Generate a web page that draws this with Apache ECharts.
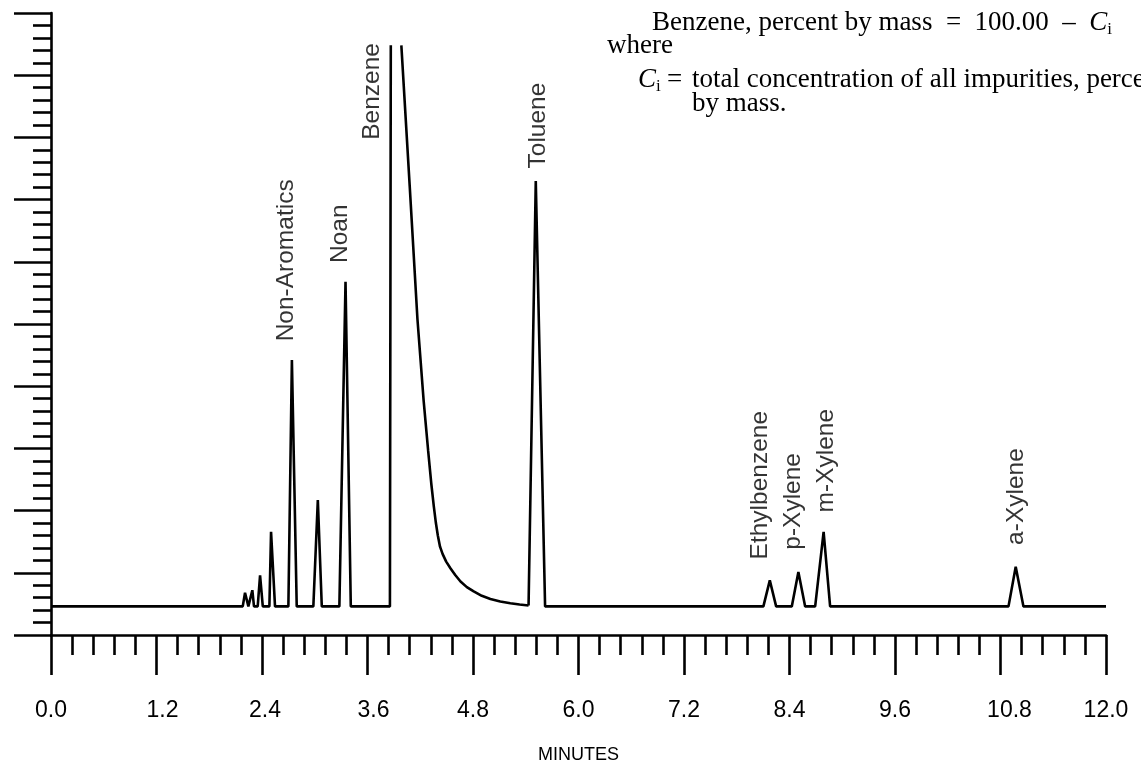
<!DOCTYPE html>
<html>
<head>
<meta charset="utf-8">
<script src="https://cdn.jsdelivr.net/npm/echarts@6/dist/echarts.min.js"></script>
<style>
html,body{margin:0;padding:0;background:#fff;}
#chart{width:1141px;height:769px;}
</style>
</head>
<body>
<div id="chart"></div>
<script>
// ---- data (time in minutes, detector response in axis units 0..50) ----
const xTickLabels = ['0.0','1.2','2.4','3.6','4.8','6.0','7.2','8.4','9.6','10.8','12.0'];

// trace from start up to the off-scale Benzene peak
const traceEarly = [
  [0.000, 2.3], [2.181, 2.3], [2.207, 3.4], [2.245, 2.3],
  [2.264, 2.3], [2.290, 3.6], [2.309, 2.3],
  [2.351, 2.3], [2.378, 4.8], [2.409, 2.3],
  [2.484, 2.3], [2.503, 8.3], [2.548, 2.3],
  [2.700, 2.3], [2.740, 22.1], [2.795, 2.3],
  [2.984, 2.3], [3.035, 10.85], [3.080, 2.3],
  [3.280, 2.3], [3.350, 28.4], [3.410, 2.3],
  [3.855, 2.3], [3.865, 47.4]
];
// tailing side of the Benzene peak
const benzeneTail = [
  [3.985, 47.4], [4.080, 36.1], [4.168, 25.4], [4.239, 18.8], [4.290, 14.8],
  [4.325, 12.2], [4.355, 10.3], [4.378, 9.0], [4.400, 8.0], [4.425, 7.1],
  [4.455, 6.5], [4.495, 5.9], [4.545, 5.35], [4.600, 4.8], [4.658, 4.3],
  [4.730, 3.85], [4.808, 3.5], [4.900, 3.15], [4.998, 2.9], [5.110, 2.7],
  [5.225, 2.55], [5.330, 2.45], [5.432, 2.37]
];
// Toluene and later peaks
const traceLate = [
  [5.432, 2.37], [5.514, 36.5], [5.620, 2.3],
  [8.103, 2.3], [8.176, 4.39], [8.248, 2.3],
  [8.426, 2.3], [8.501, 5.07], [8.578, 2.3],
  [8.692, 2.3], [8.788, 8.29], [8.862, 2.3],
  [10.891, 2.3], [10.973, 5.49], [11.061, 2.3],
  [12.000, 2.3]
];
// peak names and the (time, response) where each rotated label starts
const peakNames = ['Non-Aromatics','Noan','Benzene','Toluene','Ethylbenzene','p-Xylene','m-Xylene','a-Xylene'];
const peakLabelT = [2.674, 3.288, 3.652, 5.538, 8.073, 8.443, 8.822, 10.979];
const peakLabelV = [23.6, 29.9, 39.8, 37.5, 6.07, 6.85, 9.85, 7.24];

const labelData = peakNames.map((n, i) => [peakLabelT[i], peakLabelV[i], n]);

const chart = echarts.init(document.getElementById('chart'), null, {renderer:'canvas'});
const SANS = '"Liberation Sans", Arial, Helvetica, sans-serif';
const SERIF = '"Liberation Serif", "Times New Roman", serif';
const lineStyle = {color:'#000', width:2.6};
// small hand-set offsets of some tick labels in the original print
const labelShift = {'1.2':'r12', '2.4':'r6', '3.6':'r12', '10.8':'r18'};

chart.setOption({
  animation:false,
  backgroundColor:'#fff',
  grid:{left:51, right:35, top:13, bottom:131, containLabel:false},
  xAxis:{
    type:'value', min:0, max:12, interval:1.2,
    axisLine:{show:true, onZero:false, lineStyle:{color:'#000', width:2.6}},
    axisTick:{show:true, length:40, lineStyle:{color:'#000', width:2.6}},
    minorTick:{show:true, splitNumber:5, length:20, lineStyle:{color:'#000', width:2.6}},
    splitLine:{show:false}, minorSplitLine:{show:false},
    axisLabel:{
      color:'#000', fontSize:23, fontFamily:SANS, margin:64,
      formatter:function(v){
        const i = Math.round(v/1.2);
        const t = xTickLabels[i] !== undefined ? xTickLabels[i] : '';
        return labelShift[t] ? '{' + labelShift[t] + '|' + t + '}' : t;
      },
      rich:{
        r6:{padding:[0,0,0,6], fontSize:23, fontFamily:SANS, color:'#000'},
        r12:{padding:[0,0,0,12], fontSize:23, fontFamily:SANS, color:'#000'},
        r18:{padding:[0,0,0,18], fontSize:23, fontFamily:SANS, color:'#000'}
      }
    },
    name:'MINUTES', nameLocation:'middle', nameGap:111,
    nameTextStyle:{color:'#000', fontSize:18, fontFamily:SANS}
  },
  yAxis:{
    type:'value', min:0, max:50, interval:5,
    axisLine:{show:true, onZero:false, lineStyle:{color:'#000', width:2.6}},
    axisTick:{show:true, length:37, lineStyle:{color:'#000', width:2.6}},
    minorTick:{show:true, splitNumber:5, length:18, lineStyle:{color:'#000', width:2.6}},
    axisLabel:{show:false},
    splitLine:{show:false}, minorSplitLine:{show:false}
  },
  series:[
    {type:'line', data:traceEarly, symbol:'none', lineStyle:lineStyle, z:3},
    {type:'line', data:benzeneTail, symbol:'none', lineStyle:lineStyle, z:3},
    {type:'line', data:traceLate, symbol:'none', lineStyle:lineStyle, z:3},
    {type:'scatter', data:labelData, symbolSize:0.1, itemStyle:{color:'rgba(0,0,0,0)'},
     label:{show:true, position:[0,0], rotate:90, align:'left', verticalAlign:'middle',
            color:'#000', fontSize:24.5, fontFamily:SANS,
            formatter:function(p){ return p.data[2]; }},
     silent:true, z:4}
  ],
  graphic:[
    {type:'text', left:652, top:7, style:{
      text:'Benzene, percent by mass  =  100.00  –  {c|C}{s|i}',
      font:'27px ' + SERIF, fill:'#000', lineHeight:31,
      rich:{c:{fontStyle:'italic', fontSize:27, fontFamily:SERIF, lineHeight:31},
            s:{fontSize:17, fontFamily:SERIF, verticalAlign:'bottom', lineHeight:31}}
    }},
    {type:'text', left:607, top:30, style:{text:'where', font:'27px ' + SERIF, fill:'#000', lineHeight:31}},
    {type:'text', left:638, top:64, style:{
      text:'{c|C}{s|i}', fill:'#000', font:'27px ' + SERIF, lineHeight:31,
      rich:{c:{fontStyle:'italic', fontSize:27, fontFamily:SERIF, lineHeight:31},
            s:{fontSize:17, fontFamily:SERIF, verticalAlign:'bottom', lineHeight:31}}
    }},
    {type:'text', left:667, top:64, style:{text:'=', font:'27px ' + SERIF, fill:'#000', lineHeight:31}},
    {type:'text', left:692, top:64, style:{text:'total concentration of all impurities, percent', font:'27px ' + SERIF, fill:'#000', lineHeight:31}},
    {type:'text', left:692, top:88, style:{text:'by mass.', font:'27px ' + SERIF, fill:'#000', lineHeight:31}}
  ]
});
</script>
</body>
</html>
